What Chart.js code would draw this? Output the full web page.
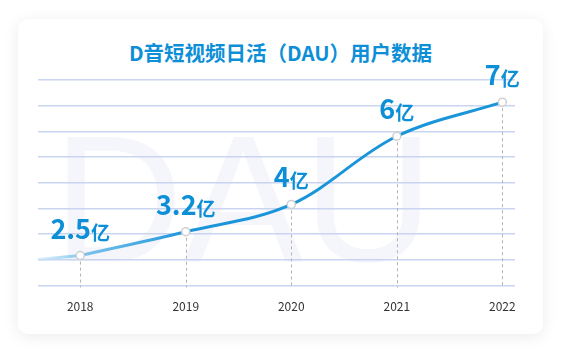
<!DOCTYPE html>
<html>
<head>
<meta charset="utf-8">
<script src="https://cdn.jsdelivr.net/npm/chart.js@4/dist/chart.umd.min.js"></script>
<style>
  html, body { margin: 0; padding: 0; background: #ffffff; }
  body { width: 561px; height: 352px; position: relative; overflow: hidden; }
  #card {
    position: absolute; left: 18px; top: 19px; width: 525px; height: 315px;
    background: #ffffff; border-radius: 10px;
    box-shadow: 0 3px 16px rgba(0,0,0,0.08);
  }
  #title {
    position: absolute; left: 0; top: 20px; width: 525px; height: 26px;
    line-height: 26px; text-align: center;
    font-family: "Noto Sans CJK SC", "Noto Sans", sans-serif; font-weight: bold;
    font-size: 20.5px; color: #0d8fd8;
  }
  #chart { position: absolute; left: 0; top: 0; }
</style>
</head>
<body>
<div id="card">
  <div id="title">D音短视频日活（DAU）用户数据</div>
  <canvas id="chart" width="525" height="315"></canvas>
</div>
<script>
// ---- data ----
const years = [2018, 2019, 2020, 2021, 2022];
const tickLabels = ['2018', '2019', '2020', '2021', '2022'];
const dauValues = [2.5, 3.2, 4, 6, 7];          // 亿
const valueLabels = ['2.5', '3.2', '4', '6', '7'];
const unitLabel = '亿';
const watermarkText = 'DAU';

const LINE = '#1a95da';

const watermarkPlugin = {
  id: 'watermark',
  beforeDraw(chart) {
    const { ctx, chartArea } = chart;
    ctx.save();
    ctx.font = '180px "Liberation Sans", Arial, sans-serif';
    ctx.fillStyle = 'rgba(238,238,250,0.6)';
    ctx.textAlign = 'center';
    ctx.textBaseline = 'alphabetic';
    const cx = chartArea.left + (chartArea.right - chartArea.left) * 0.43;
    ctx.fillText(watermarkText, cx, chartArea.bottom - 25);
    ctx.restore();
  }
};

const decoPlugin = {
  id: 'deco',
  beforeDatasetsDraw(chart) {
    const { ctx, chartArea } = chart;
    const meta = chart.getDatasetMeta(0);
    ctx.save();
    ctx.strokeStyle = '#b3b3b3';
    ctx.lineWidth = 1;
    ctx.setLineDash([3, 3]);
    meta.data.forEach(p => {
      ctx.beginPath();
      ctx.moveTo(Math.round(p.x) + 0.5, p.y);
      ctx.lineTo(Math.round(p.x) + 0.5, chartArea.bottom + 2);
      ctx.stroke();
    });
    ctx.setLineDash([]);
    const p0 = meta.data[0];
    const dx = p0.x - chartArea.left;
    const g = ctx.createLinearGradient(chartArea.left, 0, p0.x, 0);
    g.addColorStop(0, 'rgba(200,230,247,0.6)');
    g.addColorStop(1, 'rgba(130,200,238,1)');
    ctx.strokeStyle = g;
    ctx.lineWidth = 3;
    ctx.beginPath();
    ctx.moveTo(chartArea.left, p0.y + dx * 0.09);
    ctx.quadraticCurveTo(chartArea.left + dx * 0.5, p0.y + dx * 0.05, p0.x, p0.y);
    ctx.stroke();
    ctx.restore();
  },
  afterDatasetsDraw(chart) {
    const { ctx } = chart;
    const meta = chart.getDatasetMeta(0);
    ctx.save();
    ctx.fillStyle = '#0d8fd8';
    ctx.textBaseline = 'alphabetic';
    ctx.textAlign = 'left';
    const numFont = 'bold 27px "Noto Sans CJK SC", "Noto Sans", sans-serif';
    const unitFont = 'bold 19px "Noto Sans CJK SC", sans-serif';
    meta.data.forEach((p, i) => {
      ctx.font = numFont;
      const w1 = ctx.measureText(valueLabels[i]).width;
      ctx.font = unitFont;
      const w2 = ctx.measureText(unitLabel).width;
      const x0 = p.x - (w1 + w2) / 2;
      const y0 = p.y - 17;
      ctx.font = numFont;
      ctx.fillText(valueLabels[i], x0, y0);
      ctx.font = unitFont;
      ctx.fillText(unitLabel, x0 + w1, y0 + 1);
    });
    ctx.restore();
  }
};

new Chart(document.getElementById('chart'), {
  type: 'line',
  data: {
    datasets: [{
      data: years.map((y, i) => ({ x: y, y: dauValues[i] })),
      borderColor(ctx) {
        const { chart } = ctx;
        const area = chart.chartArea;
        if (!area) return LINE;
        const g = chart.ctx.createLinearGradient(area.left, 0, area.left + 150, 0);
        g.addColorStop(0, '#a8d7f2');
        g.addColorStop(1, LINE);
        return g;
      },
      borderWidth: 3,
      tension: 0.35,
      pointRadius: 4,
      pointBackgroundColor: '#ffffff',
      pointBorderColor: '#cfcfcf',
      pointBorderWidth: 1.5,
      fill: false
    }]
  },
  options: {
    responsive: false,
    animation: false,
    layout: { padding: { left: 20, right: 28, top: 61, bottom: 6 } },
    plugins: { legend: { display: false }, tooltip: { enabled: false } },
    scales: {
      x: {
        type: 'linear',
        min: 2017.6,
        max: 2022.12,
        afterBuildTicks(axis) { axis.ticks = years.map(v => ({ value: v })); },
        grid: { display: false, drawTicks: false },
        border: { display: false },
        ticks: {
          padding: 14,
          color: '#333333',
          font: { family: '"Noto Sans CJK SC", "Noto Sans", sans-serif', size: 12 },
          callback(v, i) { return tickLabels[i]; }
        }
      },
      y: {
        min: 1.62,
        max: 7.65,
        afterBuildTicks(axis) {
          const t = [];
          for (let k = 0; k <= 8; k++) t.push({ value: axis.min + (axis.max - axis.min) * k / 8 });
          axis.ticks = t;
        },
        ticks: { display: false },
        border: { display: false },
        grid: { color: '#c9d5f0', lineWidth: 1.5, drawTicks: false }
      }
    }
  },
  plugins: [watermarkPlugin, decoPlugin]
});
</script>
</body>
</html>
